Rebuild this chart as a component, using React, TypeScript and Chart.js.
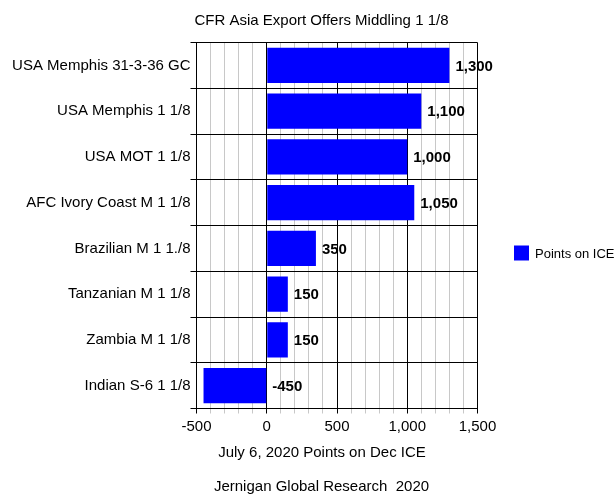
import React, { useEffect, useRef } from "react";
import { Chart, registerables } from "chart.js";

Chart.register(...registerables);

const categories = [
  "USA Memphis 31-3-36 GC",
  "USA Memphis 1 1/8",
  "USA MOT 1 1/8",
  "AFC Ivory Coast M 1 1/8",
  "Brazilian M 1 1./8",
  "Tanzanian M 1 1/8",
  "Zambia M 1 1/8",
  "Indian S-6 1 1/8",
];
const pointsOnIce = [1300, 1100, 1000, 1050, 350, 150, 150, -450];
const seriesName = "Points on ICE";
const chartTitle = "CFR Asia Export Offers Middling 1 1/8";
const xAxisTitle = "July 6, 2020 Points on Dec ICE";
const footerText = "Jernigan Global Research  2020";

const FONT = "'Liberation Sans', Arial, sans-serif";
const BLUE = "#0000ff";

const extrasPlugin = {
  id: "extras",
  afterDatasetsDraw(chart: any) {
    const ctx = chart.ctx;
    const meta = chart.getDatasetMeta(0);
    ctx.save();
    ctx.font = `bold 15px ${FONT}`;
    ctx.fillStyle = "#000";
    ctx.textAlign = "left";
    ctx.textBaseline = "middle";
    meta.data.forEach((bar: any, i: number) => {
      const v = pointsOnIce[i];
      const x = Math.max(bar.x, bar.base) + 6;
      ctx.fillText(v.toLocaleString("en-US"), x, bar.y + 1);
    });
    ctx.restore();
  },
  afterDraw(chart: any) {
    const ctx = chart.ctx;
    ctx.save();
    ctx.fillStyle = "#000";
    ctx.textAlign = "center";
    ctx.textBaseline = "middle";
    ctx.font = `15px ${FONT}`;
    ctx.fillText(chartTitle, 321.5, 21);
    ctx.fillText(xAxisTitle, 322, 453);
    ctx.fillText(footerText, 321.5, 487);
    // legend
    ctx.fillStyle = BLUE;
    ctx.fillRect(514, 245.5, 15, 15);
    ctx.fillStyle = "#000";
    ctx.textAlign = "left";
    ctx.font = `13px ${FONT}`;
    ctx.fillText(seriesName, 535, 254);
    ctx.restore();
  },
};

export default function App() {
  const ref = useRef<HTMLCanvasElement | null>(null);
  useEffect(() => {
    if (!ref.current) return;
    const chart = new Chart(ref.current, {
      type: "bar",
      data: {
        labels: categories,
        datasets: [
          {
            label: seriesName,
            data: pointsOnIce,
            backgroundColor: BLUE,
            borderWidth: 0,
            categoryPercentage: 1,
            barPercentage: 0.768,
          },
        ],
      },
      options: {
        indexAxis: "y",
        responsive: false,
        animation: false,
        devicePixelRatio: 1,
        layout: { padding: { top: 42.5, right: 137.5, left: 0, bottom: 0 } },
        plugins: {
          legend: { display: false },
          title: { display: false },
          tooltip: { enabled: false },
        },
        scales: {
          x: {
            min: -500,
            max: 1500,
            ticks: {
              stepSize: 100,
              autoSkip: false,
              maxRotation: 0,
              padding: 4,
              color: "#000",
              font: { family: FONT, size: 15 },
              callback: (v: any) =>
                Number(v) % 500 === 0 ? Number(v).toLocaleString("en-US") : "",
            },
            grid: {
              color: (c: any) =>
                c.tick && c.tick.value % 500 === 0 ? "#000" : "#c8c8c8",
              tickColor: (c: any) =>
                c.tick && c.tick.value % 500 === 0 ? "#000" : "#c8c8c8",
              tickLength: 5,
              lineWidth: 1,
            },
            border: { display: true, color: "#000" },
            afterFit: (scale: any) => {
              scale.height = 86.5;
            },
          },
          y: {
            ticks: {
              padding: 0,
              color: "#000",
              font: { family: FONT, size: 15 },
            },
            grid: {
              color: "#000",
              tickColor: "#000",
              tickLength: 6,
              offset: true,
            },
            border: { display: true, color: "#000" },
            afterFit: (scale: any) => {
              scale.width = 196.5;
            },
          },
        },
      },
      plugins: [extrasPlugin],
    });
    return () => chart.destroy();
  }, []);
  return (
    <div style={{ position: "absolute", left: 0, top: 0, width: 615, height: 495, background: "#fff" }}>
      <canvas ref={ref} width={615} height={495} style={{ width: 615, height: 495 }} />
    </div>
  );
}
